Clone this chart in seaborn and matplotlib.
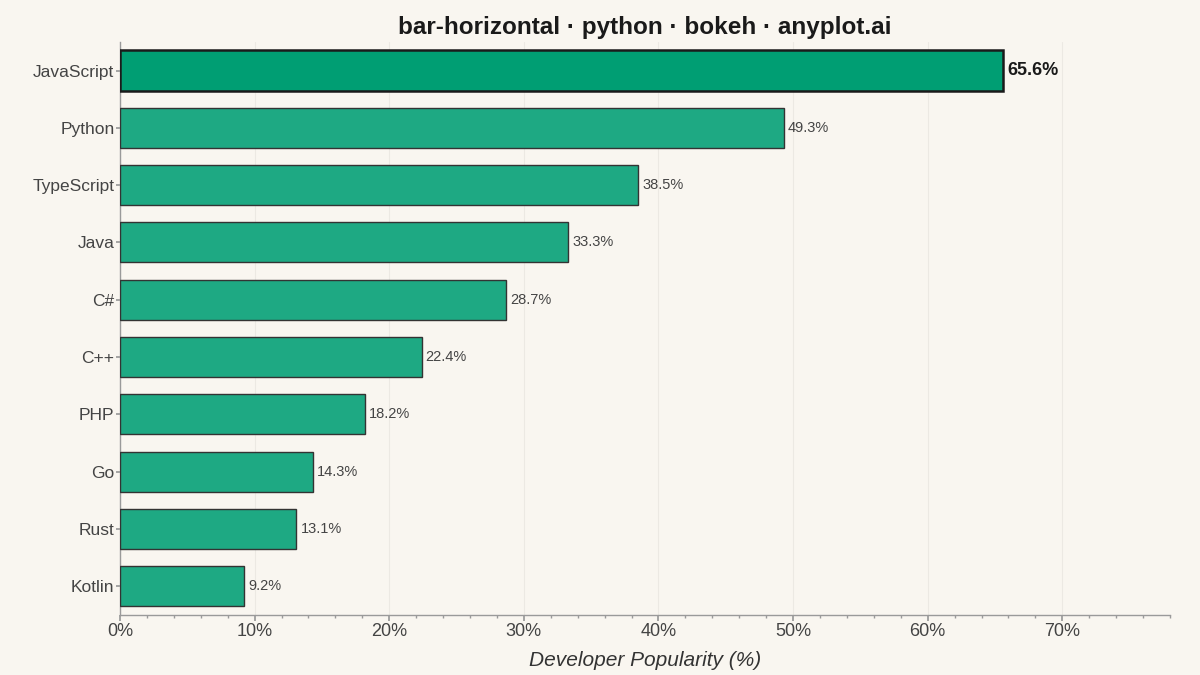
import matplotlib
matplotlib.use("Agg")
import matplotlib.pyplot as plt
import seaborn as sns
import pandas as pd
from matplotlib.ticker import MultipleLocator, FuncFormatter

# Data
languages = ["JavaScript", "Python", "TypeScript", "Java", "C#", "C++", "PHP", "Go", "Rust", "Kotlin"]
popularity = [65.6, 49.3, 38.5, 33.3, 28.7, 22.4, 18.2, 14.3, 13.1, 9.2]

df = pd.DataFrame({"Language": languages, "Popularity": popularity})

bg = "#F9F6F0"
sns.set_theme(style="white")
plt.rcParams["font.family"] = ["Liberation Sans", "DejaVu Sans"]

fig, ax = plt.subplots(figsize=(12, 6.75), dpi=100)
fig.patch.set_facecolor(bg)
ax.set_facecolor(bg)
fig.subplots_adjust(left=0.1, right=0.975, top=0.938, bottom=0.089)

sns.barplot(data=df, y="Language", x="Popularity", orient="h", color="#1EA983",
            saturation=1, width=0.7, edgecolor="#333333", linewidth=1.0, ax=ax, zorder=3)

# highlight the leader
top = ax.patches[0]
top.set_facecolor("#009E73")
top.set_edgecolor("#1A1A1A")
top.set_linewidth(1.8)

for i, v in enumerate(popularity):
    if i == 0:
        ax.text(v + 0.3, i, f"{v}%", va="center", ha="left", fontsize=13,
                fontweight="bold", color="#1A1A1A")
    else:
        ax.text(v + 0.3, i, f"{v}%", va="center", ha="left", fontsize=10.5, color="#444444")

ax.set_xlim(0, 78)
ax.set_ylim(9.5, -0.5)
ax.xaxis.set_major_locator(MultipleLocator(10))
ax.xaxis.set_minor_locator(MultipleLocator(2))
ax.xaxis.set_major_formatter(FuncFormatter(lambda x, p: f"{x:.0f}%"))
ax.grid(axis="x", which="major", color="#ECE9E3", linewidth=0.8, zorder=0)

for s in ["top", "right"]:
    ax.spines[s].set_visible(False)
for s in ["left", "bottom"]:
    ax.spines[s].set_color("#9A9A9A")
    ax.spines[s].set_linewidth(1.0)

ax.tick_params(axis="x", which="major", length=4, color="#9A9A9A", labelsize=13, labelcolor="#444444", bottom=True, pad=2)
ax.tick_params(axis="x", which="minor", length=2.5, color="#9A9A9A", bottom=True)
ax.tick_params(axis="y", length=3, color="#9A9A9A", labelsize=12.5, labelcolor="#444444", left=True, pad=1)

ax.set_ylabel("")
ax.set_xlabel("Developer Popularity (%)", fontsize=15, fontstyle="italic", color="#333333", labelpad=8)
ax.set_title("bar-horizontal · python · bokeh · anyplot.ai", fontsize=17.5, fontweight="bold",
             color="#1A1A1A", pad=6)

fig.savefig("out.png", dpi=100, facecolor=bg)
